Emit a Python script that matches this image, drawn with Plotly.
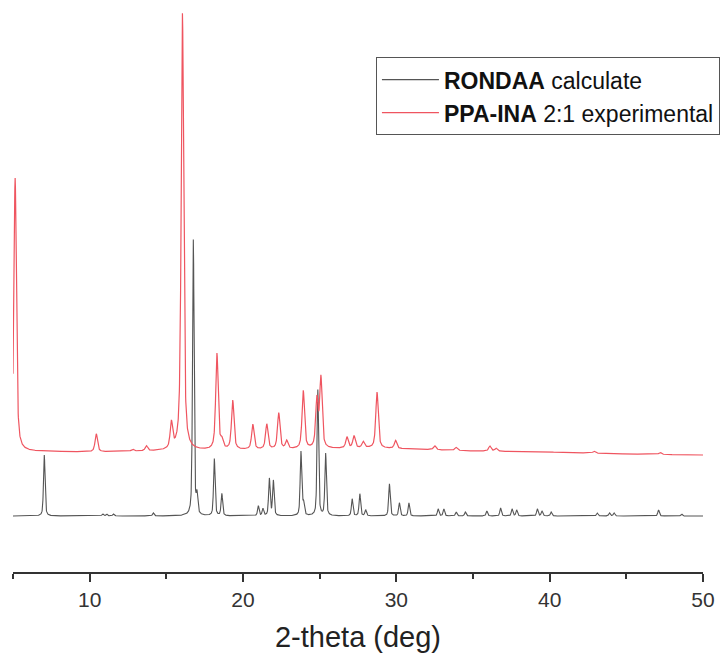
import numpy as np
import plotly.graph_objects as go

# ---- data ----
# Calculated pattern (RONDAA): peak positions (2-theta, deg), heights (a.u.)
black_pos = [7.04, 10.85, 11.1, 11.55, 14.15, 16.76, 17.0, 18.13, 18.62, 21.0, 21.3,
             21.72, 21.98, 23.78, 23.95, 24.88, 25.39, 27.12, 27.62, 28.0, 29.55,
             30.2, 30.82, 32.73, 33.1, 33.9, 34.5, 35.9, 36.8, 37.55, 37.85, 39.2,
             39.5, 40.1, 43.1, 43.9, 44.2, 47.1, 48.6]
black_h = [61, 2, 2, 2, 3, 276, 18, 57, 22, 10, 7,
           37, 35, 64, 12, 126, 62, 17, 22, 6, 32,
           13, 13, 7, 7, 4, 4, 5, 8, 7, 6, 7,
           5, 4, 3, 3, 3, 6, 2]

# Experimental pattern (PPA-INA 2:1)
red_pos = [5.14, 10.43, 12.8, 13.7, 15.33, 16.05, 18.3, 18.62, 19.33, 20.64, 21.55,
           22.33, 22.85, 23.93, 24.82, 25.08, 26.78, 27.24, 27.84, 28.74, 29.95,
           32.5, 33.9, 36.1, 36.5, 42.9, 47.2]
red_h = [273, 18, 2, 5, 26, 437, 96, 8, 49, 25, 25,
         36, 8, 58, 48, 70, 11, 12, 6, 56, 8,
         4, 3, 5, 3, 2, 2]
red_base_x = [5.0, 10.0, 15.0, 20.0, 25.0, 28.0, 31.0, 35.0, 40.0, 45.0, 50.0]
red_base_y = [0, -1, 0, 1, 2, 3, 2, 0, -1, -3, -4]

black_offset = 56
red_offset = 121

series_names = ["<b>RONDAA</b> calculate", "<b>PPA-INA</b> 2:1 experimental"]
tick_vals = [10, 20, 30, 40, 50]
minor_tick_vals = [5, 15, 25, 35, 45]


def profile(x, pos, h, fwhm, eta):
    y = np.zeros_like(x)
    for p, a in zip(pos, h):
        d = (x - p) / (fwhm / 2)
        lor = 1 / (1 + d ** 2)
        gau = np.exp(-np.log(2) * d ** 2)
        y += a * (eta * lor + (1 - eta) * gau)
    return y


x = np.arange(5.0, 50.0001, 0.01)
y_black = black_offset + profile(x, black_pos, black_h, 0.12, 0.5)
y_red = red_offset + np.interp(x, red_base_x, red_base_y) + profile(x, red_pos, red_h, 0.19, 0.65)

fig = go.Figure()
fig.add_trace(go.Scatter(x=x, y=y_black, mode="lines", name=series_names[0],
                         line=dict(color="#555555", width=1.1)))
fig.add_trace(go.Scatter(x=x, y=y_red, mode="lines", name=series_names[1],
                         line=dict(color="#ef5560", width=1.2)))

font = "Arial, 'Liberation Sans', sans-serif"
fig.update_layout(
    width=722, height=661,
    margin=dict(l=13, r=19, t=0, b=89),
    paper_bgcolor="white", plot_bgcolor="white",
    font=dict(family=font, color="#222"),
    showlegend=True,
    legend=dict(x=0.526, y=0.9, xanchor="left", yanchor="top",
                bordercolor="#555", borderwidth=1, bgcolor="white",
                font=dict(size=23, family=font, color="#111"),
                tracegroupgap=0, itemwidth=57),
    xaxis=dict(range=[5, 50], showgrid=False, zeroline=False,
               showline=True, linecolor="#333", linewidth=1.6,
               ticks="outside", ticklen=8, tickwidth=1.6, tickcolor="#333",
               tickvals=tick_vals,
               minor=dict(tickvals=minor_tick_vals, ticks="outside",
                          ticklen=5, tickwidth=1.6, tickcolor="#333"),
               tickfont=dict(size=21, family=font, color="#333"),
               title=dict(text="2-theta (deg)", font=dict(size=29, family=font, color="#222"),
                          standoff=17)),
    yaxis=dict(range=[0, 572], visible=False),
)

fig.write_html("out.html")
